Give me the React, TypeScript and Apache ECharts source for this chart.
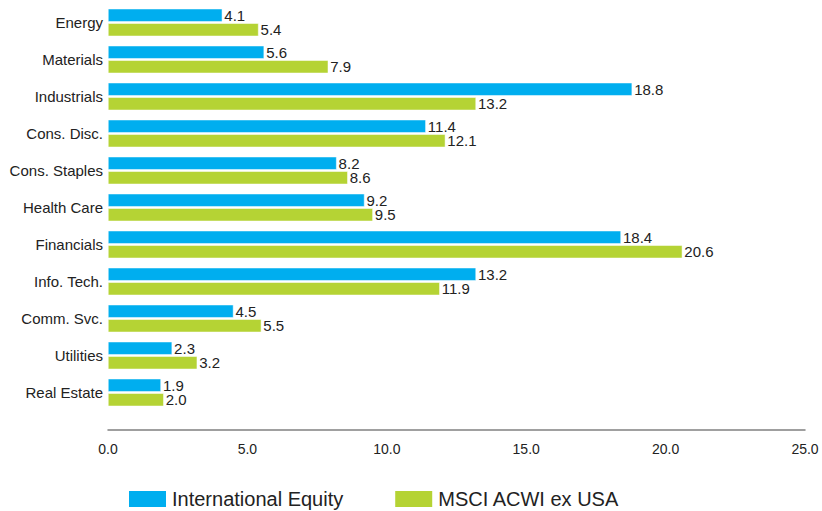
import React, { useEffect, useRef } from "react";
import * as echarts from "echarts";

const categories = [
  "Energy",
  "Materials",
  "Industrials",
  "Cons. Disc.",
  "Cons. Staples",
  "Health Care",
  "Financials",
  "Info. Tech.",
  "Comm. Svc.",
  "Utilities",
  "Real Estate",
];
const internationalEquity = [4.1, 5.6, 18.8, 11.4, 8.2, 9.2, 18.4, 13.2, 4.5, 2.3, 1.9];
const msciAcwiExUsa = [5.4, 7.9, 13.2, 12.1, 8.6, 9.5, 20.6, 11.9, 5.5, 3.2, 2.0];

const FONT = "'Liberation Sans Narrow', 'Arial Narrow', 'Liberation Sans', Arial, sans-serif";

export default function App() {
  const ref = useRef<HTMLDivElement>(null);
  useEffect(() => {
    if (!ref.current) return;
    const chart = echarts.init(ref.current, undefined, { renderer: "svg" });
    const label = {
      show: true,
      position: "right" as const,
      distance: 2,
      color: "#222",
      fontSize: 15,
      fontFamily: FONT,
      formatter: (p: any) => Number(p.value).toFixed(1),
    };
    chart.setOption({
      animation: false,
      textStyle: { fontFamily: FONT },
      grid: { left: 108, right: 17, top: 4, height: 407 },
      legend: {
        top: 484,
        left: 122,
        itemWidth: 39,
        itemHeight: 18,
        itemGap: 50,
        icon: "rect",
        textStyle: { fontSize: 20, color: "#222", fontFamily: FONT },
        data: ["International Equity", "MSCI ACWI ex USA"],
      },
      xAxis: {
        type: "value",
        min: 0,
        max: 25,
        interval: 5,
        offset: 19,
        axisLine: { show: true, lineStyle: { color: "#808080", width: 1.5 } },
        axisTick: { show: false },
        splitLine: { show: false },
        axisLabel: {
          color: "#222",
          fontSize: 14,
          fontFamily: FONT,
          margin: 12,
          formatter: (v: number) => v.toFixed(1),
        },
      },
      yAxis: {
        type: "category",
        data: categories,
        inverse: true,
        axisLine: { show: false },
        axisTick: { show: false },
        axisLabel: { color: "#222", fontSize: 15, fontFamily: FONT, margin: 5 },
      },
      series: [
        {
          name: "International Equity",
          type: "bar",
          data: internationalEquity,
          barWidth: 13,
          barGap: "12%",
          itemStyle: { color: "#00AEEF", borderColor: "#fff", borderWidth: 0.5 },
          label,
        },
        {
          name: "MSCI ACWI ex USA",
          type: "bar",
          data: msciAcwiExUsa,
          barWidth: 13,
          itemStyle: { color: "#B5D334", borderColor: "#fff", borderWidth: 0.5 },
          label,
        },
      ],
    });
    return () => chart.dispose();
  }, []);
  return (
    <div
      ref={ref}
      style={{ position: "absolute", left: 0, top: 0, width: 822, height: 511 }}
    />
  );
}
